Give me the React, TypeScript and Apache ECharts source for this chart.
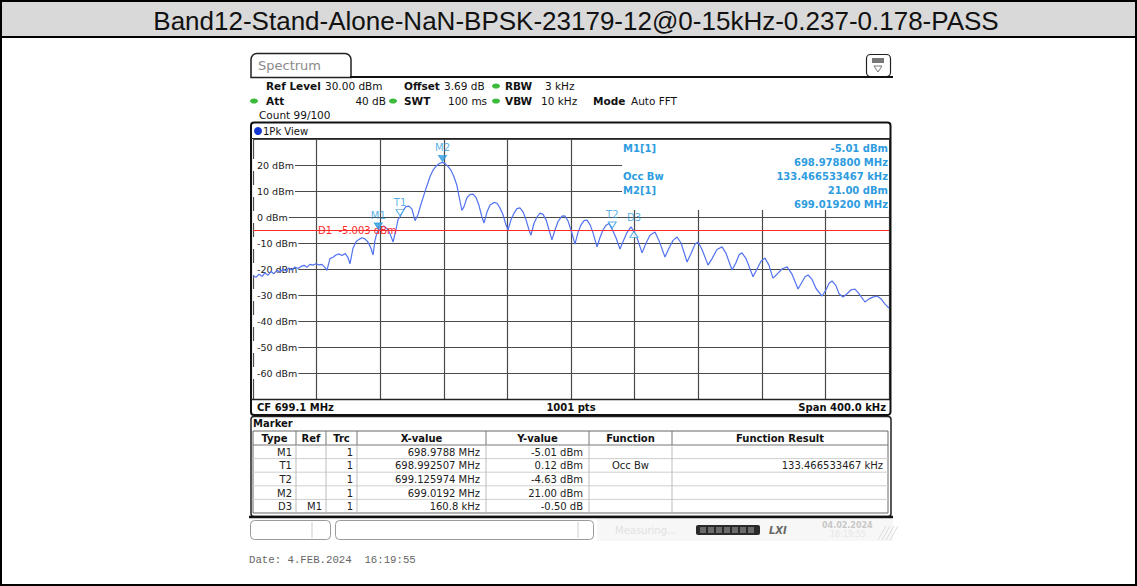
import React, { useEffect, useRef } from 'react';
import * as echarts from 'echarts';

const TITLE = 'Band12-Stand-Alone-NaN-BPSK-23179-12@0-15kHz-0.237-0.178-PASS';
const CENTER_MHZ = 699.1;
const SPAN_KHZ = 400;
const REF_LEVEL = 30;
const Y_MIN = -70;
const Y_INTERVAL = 10;
const X_INTERVAL = 40;
const D1_LEVEL = -5.003;
const START_MHZ = CENTER_MHZ - SPAN_KHZ / 2000;

// trace: [offset from start frequency in kHz, level in dBm]
const trace: [number, number][] = [
  [0, -22.5], [1.9, -23.2], [3.8, -22], [5.7, -22.8], [7.5, -21.5], [9.4, -22.4], [11.3, -21], [13.2, -21.8],
  [15.1, -20.5], [17.0, -21.2], [18.9, -20], [20.8, -20.8], [22.6, -19.6], [24.5, -20.4], [26.4, -19.2],
  [28.3, -19.8], [30.2, -19], [32.1, -18.6], [34.0, -19.3], [35.8, -18.2], [37.7, -18.5], [39.6, -18],
  [41.5, -18.4], [43.4, -18.2], [45.3, -19.5], [46.5, -20.5], [48.4, -16], [50.3, -15.5], [52.2, -14.6],
  [54.1, -14.2], [56.0, -14.8], [57.9, -14], [59.7, -15.5], [61.0, -18], [62.9, -12], [64.8, -9.5],
  [66.7, -8.6], [68.6, -8], [70.4, -8.4], [72.3, -9.6], [74.2, -12], [75.5, -14.6], [76.7, -9], [78.0, -6],
  [79.2, -5], [80.5, -4], [82.4, -3.5], [84.3, -4.5], [86.2, -6.5], [88.1, -9.6], [89.9, -5], [91.2, -1],
  [92.5, 0.1], [94.3, 2.5], [96.2, 4], [98.1, 4.2], [100.0, 3], [101.9, -1.4], [103.8, 1], [105.7, 5],
  [107.5, 8.5], [109.4, 12], [111.3, 15.5], [113.2, 18], [115.1, 19.5], [117.0, 20.5], [118.9, 21],
  [120.8, 20.6], [122.6, 19.5], [124.5, 18], [126.4, 15.5], [128.3, 12], [130.2, 6], [131.4, 2.5],
  [132.7, 4], [134.6, 7.5], [136.5, 8.6], [138.4, 8.8], [140.3, 7.5], [142.1, 4.5], [144.0, 0], [145.3, -2.3],
  [147.2, 2], [149.1, 4.6], [151.6, 5.6], [153.5, 5.3], [155.3, 3.5], [157.2, 1], [159.1, -3], [160.4, -5],
  [162.3, -1], [164.2, 1.5], [166.0, 3.2], [167.9, 3.5], [169.8, 2], [171.7, -1], [173.6, -5], [174.8, -7],
  [176.7, -2.5], [178.6, 0], [180.5, 1.5], [182.4, 1], [184.3, -1], [186.2, -5], [188.0, -8.8], [189.9, -5],
  [191.8, -1.8], [194.3, 0.3], [196.2, 0.4], [198.1, -1.5], [200.0, -5], [202.5, -10.4], [204.4, -6],
  [206.3, -3], [208.2, -1.4], [210.1, -1.2], [212.0, -3], [213.8, -6], [216.4, -11.5], [218.2, -8],
  [220.1, -5], [222.0, -3.2], [223.9, -2.5], [225.8, -4.6], [228.3, -8], [230.8, -12.3], [232.7, -9.5],
  [235.2, -6], [237.7, -3.8], [239.6, -5.5], [241.5, -8], [244.7, -13.8], [247.2, -10], [249.7, -7],
  [252.8, -5.8], [255.3, -9], [259.1, -15.4], [261.6, -12], [264.2, -9], [266.7, -7.7], [269.2, -10],
  [273.0, -17.3], [275.5, -14], [278.0, -10.5], [279.9, -9.6], [282.4, -12.5], [286.2, -18.5], [288.7, -16],
  [291.8, -12.5], [295.0, -11.5], [297.5, -14], [301.3, -20.4], [303.8, -17.5], [305.7, -14.5], [307.5, -13.8],
  [310.1, -16], [314.5, -23], [317.0, -20], [319.5, -17], [322.0, -15.8], [324.5, -18.5], [327.0, -23.5],
  [329.6, -22], [332.7, -20], [335.9, -19.2], [339.0, -22], [342.8, -27.7], [345.3, -25], [347.2, -23],
  [349.1, -22.3], [351.6, -24], [354.1, -27.5], [357.9, -30.4], [360.4, -28], [362.3, -25.5], [364.2, -24.6],
  [366.7, -26.5], [368.6, -29.5], [371.1, -30.8], [373.6, -29.5], [376.1, -28], [378.6, -27.7], [381.1, -29.5],
  [384.9, -32.7], [387.4, -31.5], [389.9, -30.8], [392.5, -30.4], [395.0, -31.5], [397.5, -33.5], [400.0, -35],
];

const markerNames = ['M1', 'T1', 'T2', 'M2', 'D3'];
const markerFreqMHz = [698.9788, 698.992507, 699.125974, 699.0192, 699.1396];
const markerLevel = [-5.01, 0.12, -4.63, 21.0, -5.51];
const markerFilled = [true, false, false, true, false];
const markerDown = [true, true, true, true, false];

const tableHeaders = ['Type', 'Ref', 'Trc', 'X-value', 'Y-value', 'Function', 'Function Result'];
const tableRef = ['', '', '', '', 'M1'];
const tableTrc = ['1', '1', '1', '1', '1'];
const tableX = ['698.9788 MHz', '698.992507 MHz', '699.125974 MHz', '699.0192 MHz', '160.8 kHz'];
const tableY = ['-5.01 dBm', '0.12 dBm', '-4.63 dBm', '21.00 dBm', '-0.50 dB'];
const tableFunc = ['', 'Occ Bw', '', '', ''];
const tableResult = ['', '133.466533467 kHz', '', '', ''];

const infoLabels = ['M1[1]', '', 'Occ Bw', 'M2[1]', ''];
const infoValues = ['-5.01 dBm', '698.978800 MHz', '133.466533467 kHz', '21.00 dBm', '699.019200 MHz'];

const FONT = 'DejaVu Sans';
const MK = '#2e9ce0';

function txt(x: number, y: number, text: string, o: any = {}) {
  return {
    type: 'text',
    x,
    y,
    z: o.z ?? 20,
    style: {
      text,
      fill: o.fill ?? '#111',
      fontSize: o.size ?? 10.5,
      fontFamily: o.family ?? FONT,
      fontWeight: o.bold ? 'bold' : 'normal',
      fontStyle: o.italic ? 'italic' : 'normal',
      align: o.align ?? 'left',
      verticalAlign: 'middle',
    },
  };
}
function rect(x: number, y: number, w: number, h: number, style: any, r: any = 0, z = 15) {
  return { type: 'rect', z, shape: { x, y, width: w, height: h, r }, style };
}
function line(x1: number, y1: number, x2: number, y2: number, stroke: string, lw = 1, z = 16) {
  return { type: 'line', z, shape: { x1, y1, x2, y2 }, style: { stroke, lineWidth: lw } };
}
function dot(cx: number, cy: number) {
  return { type: 'ellipse', z: 20, shape: { cx, cy, rx: 4, ry: 2.6 }, style: { fill: '#3cba3c' } };
}

export default function App() {
  const ref = useRef<HTMLDivElement>(null);
  useEffect(() => {
    if (!ref.current) return;
    const chart = echarts.init(ref.current, undefined, { renderer: 'svg' });

    const g: any[] = [];
    // outer frame and title
    g.push(rect(0, 0, 1137, 37, { fill: '#d9d9d9' }, 0, 1));
    g.push(rect(1, 1, 1135, 584, { fill: 'none', stroke: '#000', lineWidth: 2 }, 0, 30));
    g.push(line(0, 37, 1137, 37, '#000', 2, 30));
    g.push(txt(576, 21, TITLE, { size: 26, family: 'Liberation Sans', fill: '#111', align: 'center' }));

    // spectrum tab
    g.push(rect(251, 53.5, 100, 24, { fill: '#fff', stroke: '#222', lineWidth: 1.5 }, [6, 6, 0, 0]));
    g.push(line(350, 77, 893, 77, '#111', 2));
    g.push(txt(258, 65, 'Spectrum', { size: 13, fill: '#8a8a8a' }));
    g.push(rect(866.5, 54.5, 24, 22, { fill: '#fff', stroke: '#222', lineWidth: 1.2 }, 4));
    g.push(rect(872, 58, 12, 5, { fill: '#777' }, 0, 17));
    g.push({ type: 'polygon', z: 17, shape: { points: [[874, 66], [882, 66], [878, 72]] }, style: { fill: 'none', stroke: '#777', lineWidth: 1 } });

    // header rows
    g.push(txt(266, 86, 'Ref Level', { bold: true }));
    g.push(txt(325, 86, '30.00 dBm'));
    g.push(txt(404, 86, 'Offset', { bold: true }));
    g.push(txt(444, 86, '3.69 dB'));
    g.push(dot(496, 86));
    g.push(txt(505, 86, 'RBW', { bold: true }));
    g.push(txt(545, 86, '3 kHz'));
    g.push(dot(254, 101));
    g.push(txt(266, 101, 'Att', { bold: true }));
    g.push(txt(386, 101, '40 dB', { align: 'right' }));
    g.push(dot(393, 101));
    g.push(txt(404, 101, 'SWT', { bold: true }));
    g.push(txt(448, 101, '100 ms'));
    g.push(dot(496, 101));
    g.push(txt(505, 101, 'VBW', { bold: true }));
    g.push(txt(541, 101, '10 kHz'));
    g.push(txt(593, 101, 'Mode', { bold: true }));
    g.push(txt(631, 101, 'Auto FFT'));
    g.push(txt(259, 115, 'Count 99/100'));

    // diagram frame
    g.push(rect(251, 122.5, 639.5, 292.5, { fill: 'none', stroke: '#111', lineWidth: 2 }, 3, 18));
    g.push(line(251, 138.5, 890, 138.5, '#222', 1.2, 18));
    g.push(line(251, 399.5, 890, 399.5, '#222', 1.5, 18));
    g.push({ type: 'circle', z: 20, shape: { cx: 258, cy: 131, r: 4 }, style: { fill: '#1535d0' } });
    g.push(txt(263, 131, '1Pk View', { size: 10 }));
    g.push(txt(257, 407, 'CF 699.1 MHz', { bold: true, size: 10 }));
    g.push(txt(571, 407, '1001 pts', { bold: true, size: 10, align: 'center' }));
    g.push(txt(886, 407, 'Span 400.0 kHz', { bold: true, size: 10, align: 'right' }));

    // marker info box
    g.push(rect(622, 140, 267, 70, { fill: '#fff' }, 0, 12));
    infoLabels.forEach((t, i) => {
      const y = 148 + i * 14;
      if (t) g.push(txt(623, y, t, { bold: true, size: 10, fill: MK }));
      g.push(txt(888, y, infoValues[i], { bold: true, size: 10, fill: MK, align: 'right' }));
    });

    // marker table box
    g.push(rect(251, 416.5, 640, 100, { fill: '#fff', stroke: '#222', lineWidth: 1.5 }, 3, 2));
    g.push(txt(253, 423, 'Marker', { bold: true, size: 10 }));
    const cols = [253, 296, 326, 357, 486, 589, 672, 888];
    const rowTop = 431;
    const headH = 14;
    const rowH = 13.6;
    const nRows = markerNames.length;
    const tblBottom = rowTop + headH + nRows * rowH;
    g.push(rect(cols[0], rowTop, cols[7] - cols[0], tblBottom - rowTop, { fill: '#fff', stroke: '#666', lineWidth: 1 }, 0, 3));
    g.push(line(cols[0], rowTop + headH, cols[7], rowTop + headH, '#777', 1, 4));
    for (let r = 1; r < nRows; r++) {
      const y = rowTop + headH + r * rowH;
      g.push(line(cols[0], y, cols[7], y, '#cfcfcf', 1, 4));
    }
    for (let c = 1; c < cols.length - 1; c++) {
      g.push(line(cols[c], rowTop, cols[c], rowTop + headH, '#777', 1, 4));
      g.push(line(cols[c], rowTop + headH, cols[c], tblBottom, '#bdbdbd', 1, 4));
    }
    tableHeaders.forEach((h, c) => {
      g.push(txt((cols[c] + cols[c + 1]) / 2, rowTop + headH / 2 + 0.5, h, { bold: true, size: 10, align: 'center' }));
    });
    markerNames.forEach((name, r) => {
      const y = rowTop + headH + r * rowH + rowH / 2 + 0.5;
      const o = { size: 10, fill: '#222' };
      g.push(txt(cols[1] - 4, y, name, { ...o, align: 'right' }));
      if (tableRef[r]) g.push(txt(cols[2] - 4, y, tableRef[r], { ...o, align: 'right' }));
      g.push(txt(cols[3] - 4, y, tableTrc[r], { ...o, align: 'right' }));
      g.push(txt(cols[4] - 6, y, tableX[r], { ...o, align: 'right' }));
      g.push(txt(cols[5] - 6, y, tableY[r], { ...o, align: 'right' }));
      if (tableFunc[r]) g.push(txt((cols[5] + cols[6]) / 2, y, tableFunc[r], { ...o, align: 'center' }));
      if (tableResult[r]) g.push(txt(cols[7] - 5, y, tableResult[r], { ...o, align: 'right' }));
    });
    g.push(line(249, 517, 893, 517, '#111', 2.5, 5));

    // status bar
    g.push(rect(250.5, 520.5, 80, 19, { fill: '#fff', stroke: '#9a9a9a', lineWidth: 1 }, 4));
    g.push(line(312, 522, 312, 538, '#cfcfcf', 1));
    g.push(rect(335.5, 520.5, 258, 19, { fill: '#fff', stroke: '#9a9a9a', lineWidth: 1 }, 4));
    g.push(line(578, 522, 578, 538, '#cfcfcf', 1));
    g.push(rect(597, 519, 296, 22, { fill: '#f7f7f7' }, 0, 14));
    g.push(txt(615, 530, 'Measuring...', { size: 10, fill: '#e2e2e2' }));
    g.push(rect(696, 525, 64, 10, { fill: '#2a2a2a' }, 2, 16));
    for (let i = 0; i < 7; i++) g.push(rect(700 + i * 8, 527, 6, 6, { fill: '#6a6a6a' }, 0, 17));
    g.push(txt(769, 530, 'LXI', { size: 10, bold: true, italic: true, fill: '#666' }));
    g.push(txt(822, 525, '04.02.2024', { size: 8, bold: true, fill: '#c8c8c8' }));
    g.push(txt(830, 534, '16:19:55', { size: 8, fill: '#e6e6e6' }));
    for (let i = 0; i < 4; i++) g.push(line(878 + i * 4, 540, 890 + i * 4 - 4, 526, '#dddddd', 1, 17));

    // date footer
    g.push(txt(249, 560, 'Date: 4.FEB.2024  16:19:55', { size: 10.7, family: 'Liberation Mono', fill: '#666' }));

    const markerData = markerNames.map((name, i) => {
      const down = markerDown[i];
      return {
        name,
        value: [(markerFreqMHz[i] - START_MHZ) * 1000, markerLevel[i]],
        symbol: 'triangle',
        symbolSize: [8, 6],
        symbolRotate: down ? 180 : 0,
        symbolOffset: down ? [0, -4] : [0, 3],
        itemStyle: { color: markerFilled[i] ? MK : '#fff', borderColor: MK, borderWidth: 1 },
        label: { distance: down ? 2 : 8 },
      };
    });

    const option: any = {
      animation: false,
      backgroundColor: '#fff',
      grid: { left: 253, top: 139, width: 636, height: 260, containLabel: false },
      xAxis: {
        type: 'value',
        min: 0,
        max: SPAN_KHZ,
        interval: X_INTERVAL,
        axisLine: { show: false },
        axisTick: { show: false },
        axisLabel: { show: false },
        splitLine: { show: true, lineStyle: { color: '#4a4a4a', width: 1.2 } },
      },
      yAxis: {
        type: 'value',
        min: Y_MIN,
        max: REF_LEVEL,
        interval: Y_INTERVAL,
        axisLine: { show: false },
        axisTick: { show: false },
        splitLine: { show: true, lineStyle: { color: '#4a4a4a', width: 1.2 } },
        axisLabel: {
          inside: true,
          margin: 0,
          align: 'left',
          formatter: (v: number) => `${v} dBm`,
          fontFamily: FONT,
          fontSize: 9.5,
          color: '#222',
          backgroundColor: '#fff',
          padding: [1, 1, 1, 4],
          showMinLabel: false,
          showMaxLabel: false,
        },
      },
      series: [
        {
          type: 'line',
          data: trace,
          symbol: 'none',
          z: 3,
          lineStyle: { color: '#5272f0', width: 1.2 },
          markLine: {
            silent: true,
            symbol: ['none', 'none'],
            lineStyle: { color: '#ff2a2a', width: 1, type: 'solid' },
            label: {
              show: true,
              position: 'insideStart',
              distance: [65, 0],
              formatter: `D1  ${D1_LEVEL.toFixed(3)} dBm`,
              color: '#ff2a2a',
              fontFamily: FONT,
              fontSize: 10,
            },
            data: [{ yAxis: D1_LEVEL }],
          },
        },
        {
          type: 'scatter',
          data: markerData,
          z: 5,
          label: {
            show: true,
            position: 'top',
            formatter: (p: any) => p.name,
            color: MK,
            fontFamily: FONT,
            fontSize: 10,
          },
        },
      ],
      graphic: { elements: g },
    };
    chart.setOption(option);
    return () => chart.dispose();
  }, []);

  return (
    <div
      ref={ref}
      style={{ position: 'fixed', left: 0, top: 0, width: 1137, height: 586, background: '#fff' }}
    />
  );
}
